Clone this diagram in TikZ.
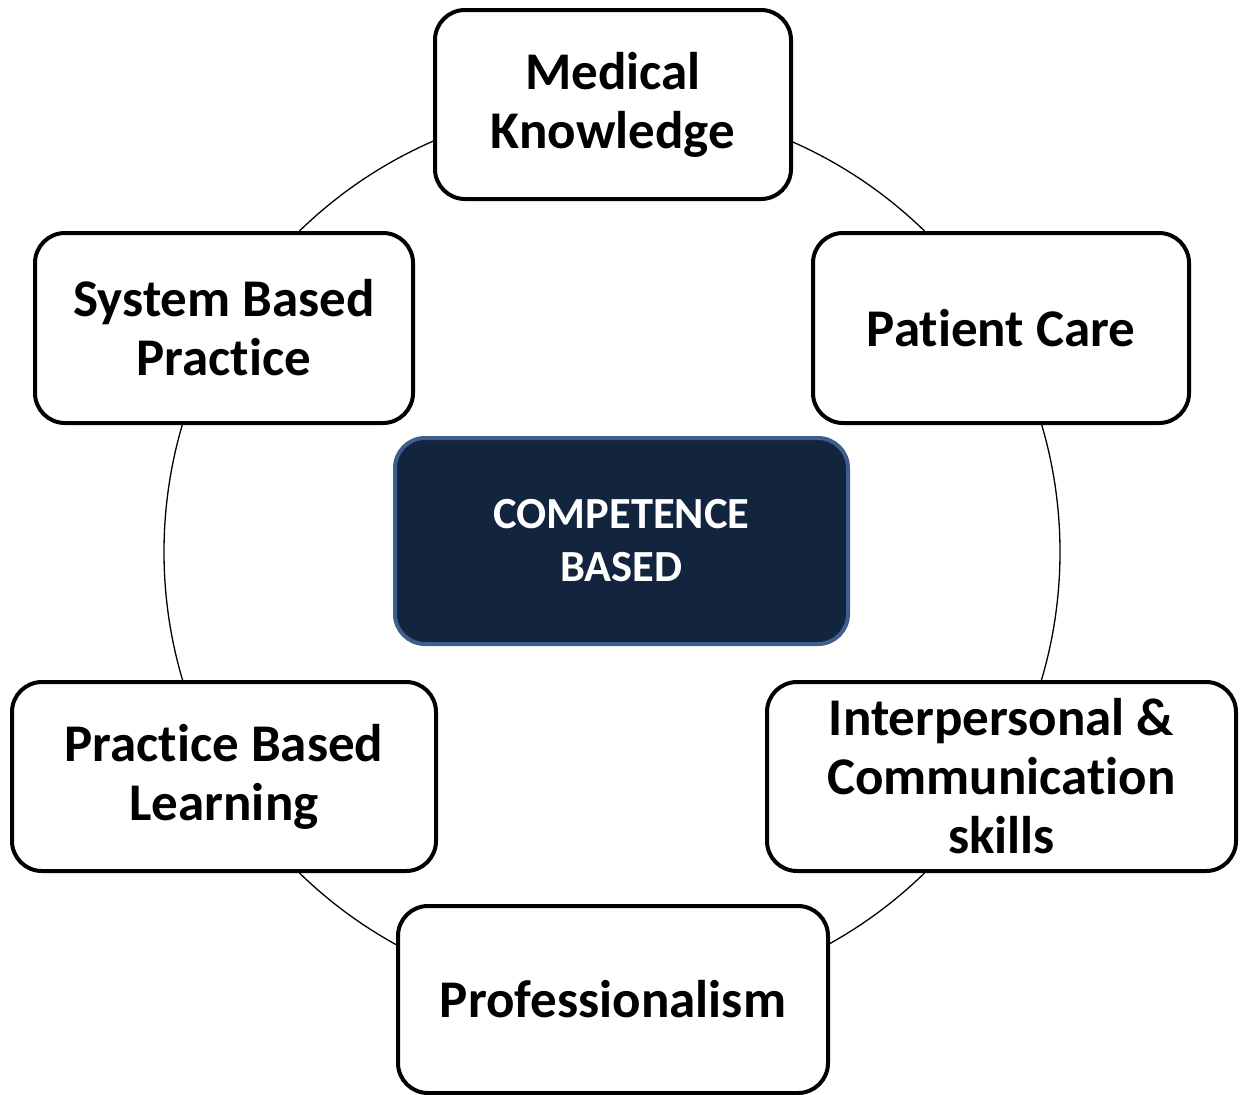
\documentclass[tikz,border=0pt]{standalone}
\usepackage{fontspec}
\setmainfont{Carlito}[Ligatures=NoCommon]
\definecolor{navy}{HTML}{12243E}
\definecolor{navyedge}{HTML}{3E5F8C}
\tikzset{
  compbox/.style={draw=black, line width=4pt, rounded corners=30pt, fill=white,
    align=center, inner sep=0pt, font=\fontsize{53}{59}\selectfont\bfseries},
  corebox/.style={draw=navyedge, line width=4pt, rounded corners=30pt, fill=navy,
    text=white, align=center, inner sep=0pt, font=\fontsize{44.5}{53}\selectfont\bfseries},
  ring/.style={draw=black, line width=1.3pt}
}
\begin{document}
\begin{tikzpicture}[x=1pt,y=-1pt]
\useasboundingbox (0,0) rectangle (1245,1095);
\coordinate (c) at (612,552);
\draw[ring] (c) circle[radius=448];
\node[compbox, minimum width=356pt, minimum height=189pt] (mk) at (613,104.5) {Medical\\Knowledge};
\node[compbox, minimum width=376pt, minimum height=190pt] (pc) at (1001,328) {Patient Care};
\node[compbox, minimum width=378pt, minimum height=190pt] (sbp) at (224,328) {System Based\\Practice};
\node[compbox, minimum width=424pt, minimum height=189pt] (pbl) at (224,776.5) {Practice Based\\Learning};
\node[compbox, minimum width=469pt, minimum height=189pt] (ics) at (1001.5,776.5) {Interpersonal \&\\Communication\\skills};
\node[compbox, minimum width=430pt, minimum height=187pt] (pro) at (613,999.5) {Professionalism};
\node[corebox, minimum width=453pt, minimum height=206pt] (core) at (621.5,541) {COMPETENCE\\BASED};
\end{tikzpicture}
\end{document}
